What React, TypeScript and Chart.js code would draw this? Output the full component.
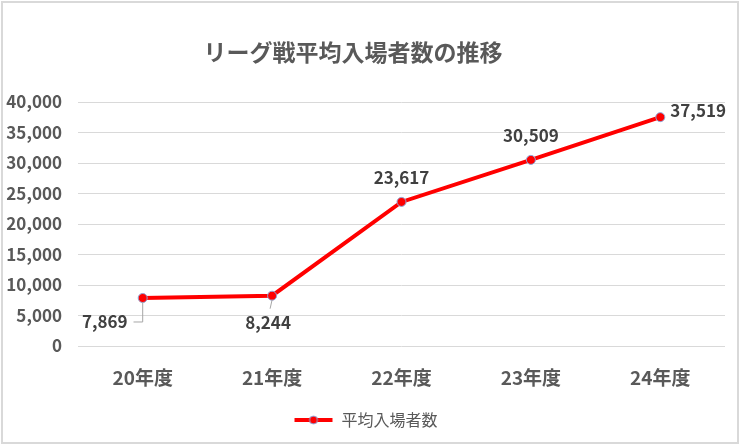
import { useEffect, useRef } from 'react';
import { Chart, registerables, Plugin } from 'chart.js';

Chart.register(...registerables);

const years = ['20年度', '21年度', '22年度', '23年度', '24年度'];
const attendance = [7869, 8244, 23617, 30509, 37519];
const seriesName = '平均入場者数';
const chartTitle = 'リーグ戦平均入場者数の推移';

const JP = '"Noto Sans CJK JP", "Noto Sans", sans-serif';
const GREY = '#595959';

// label placement per point: [dx, dy, align, leader]
const labelPlace: [number, number, CanvasTextAlign, boolean][] = [
  [-38, 24, 'center', true],
  [-4, 27, 'center', true],
  [0, -24, 'center', false],
  [0, -24, 'center', false],
  [10, -7, 'left', false],
];

function legendIcon() {
  const c = document.createElement('canvas');
  c.width = 40;
  c.height = 12;
  const g = c.getContext('2d')!;
  g.strokeStyle = '#ff0000';
  g.lineWidth = 4;
  g.beginPath();
  g.moveTo(1, 6);
  g.lineTo(39, 6);
  g.stroke();
  g.fillStyle = '#ff0000';
  g.strokeStyle = '#8ea6d8';
  g.lineWidth = 1;
  g.beginPath();
  g.arc(20, 6, 4, 0, Math.PI * 2);
  g.fill();
  g.stroke();
  return c;
}

const frameAndTitle: Plugin<'line'> = {
  id: 'frameAndTitle',
  beforeDraw(chart) {
    const { ctx, width, height } = chart;
    ctx.save();
    ctx.fillStyle = '#fff';
    ctx.fillRect(0, 0, width, height);
    ctx.strokeStyle = '#d9d9d9';
    ctx.lineWidth = 2;
    ctx.strokeRect(2, 2, width - 4, height - 3);
    ctx.restore();
  },
  afterDraw(chart) {
    const { ctx } = chart;
    ctx.save();
    ctx.fillStyle = GREY;
    ctx.font = `bold 23px ${JP}`;
    ctx.textAlign = 'center';
    ctx.textBaseline = 'middle';
    ctx.fillText(chartTitle, 353, 52);
    ctx.restore();
  },
};

const pointLabels: Plugin<'line'> = {
  id: 'pointLabels',
  afterDatasetsDraw(chart) {
    const { ctx } = chart;
    const meta = chart.getDatasetMeta(0);
    ctx.save();
    ctx.font = `bold 17px ${JP}`;
    ctx.fillStyle = '#404040';
    ctx.textBaseline = 'middle';
    meta.data.forEach((pt, i) => {
      const [dx, dy, align, leader] = labelPlace[i];
      const x = pt.x + dx;
      const y = pt.y + dy;
      const text = attendance[i].toLocaleString('en-US');
      ctx.textAlign = align;
      if (leader) {
        ctx.strokeStyle = '#a6a6a6';
        ctx.lineWidth = 1;
        ctx.beginPath();
        if (i === 0) {
          const w = ctx.measureText(text).width;
          ctx.moveTo(x + w / 2 + 6, y);
          ctx.lineTo(pt.x, y);
          ctx.lineTo(pt.x, pt.y + 4);
        } else {
          ctx.moveTo(pt.x - 2, pt.y + 13);
          ctx.lineTo(pt.x, pt.y + 4);
        }
        ctx.stroke();
      }
      ctx.fillText(text, x, y);
    });
    ctx.restore();
  },
};

export default function App() {
  const canvasRef = useRef<HTMLCanvasElement>(null);

  useEffect(() => {
    if (!canvasRef.current) return;
    const chart = new Chart(canvasRef.current, {
      type: 'line',
      data: {
        labels: years,
        datasets: [{
          label: seriesName,
          data: attendance,
          borderColor: '#ff0000',
          borderWidth: 4,
          backgroundColor: '#ff0000',
          pointBackgroundColor: '#ff0000',
          pointBorderColor: '#8ea6d8',
          pointBorderWidth: 1,
          pointRadius: 4.5,
          tension: 0,
        }],
      },
      options: {
        responsive: false,
        animation: false,
        layout: { padding: { top: 102, left: 6, right: 15, bottom: 6 } },
        plugins: {
          title: { display: false },
          tooltip: { enabled: false },
          legend: {
            position: 'bottom',
            labels: {
              color: GREY,
              font: { family: JP, size: 16 },
              usePointStyle: true,
              pointStyleWidth: 40,
              padding: 10,
              generateLabels: () => [{
                text: seriesName,
                pointStyle: legendIcon(),
                fontColor: GREY,
                strokeStyle: 'transparent',
                fillStyle: 'transparent',
                lineWidth: 0,
                datasetIndex: 0,
              }],
            },
          },
        },
        scales: {
          x: {
            offset: true,
            grid: { display: false, drawTicks: false },
            border: { display: false },
            ticks: {
              color: GREY,
              font: { family: JP, size: 19, weight: 'bold' },
              padding: 20,
            },
            afterFit: s => { s.height = 56; },
          },
          y: {
            min: 0,
            max: 40000,
            grid: { color: '#d9d9d9', lineWidth: 1, drawTicks: false },
            border: { display: false },
            ticks: {
              stepSize: 5000,
              color: GREY,
              font: { family: JP, size: 17, weight: 'bold' },
              padding: 16,
              callback: v => Number(v).toLocaleString('en-US'),
            },
            afterFit: s => { s.width = 72; },
          },
        },
      },
      plugins: [frameAndTitle, pointLabels],
    });
    return () => { chart.destroy(); };
  }, []);

  return (
    <div style={{ position: 'fixed', left: 0, top: 0, width: 740, height: 444 }}>
      <canvas ref={canvasRef} width={740} height={444} />
    </div>
  );
}
